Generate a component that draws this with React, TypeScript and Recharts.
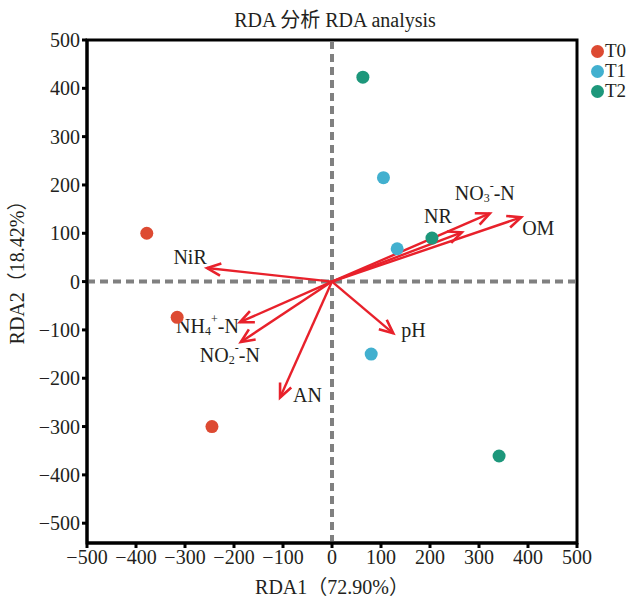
import React from "react";
import {
  ScatterChart,
  Scatter,
  XAxis,
  YAxis,
  ReferenceLine,
  ReferenceArea,
  Legend,
} from "recharts";

const FONT = "'Liberation Serif', 'Times New Roman', 'Noto Sans CJK SC', serif";

// sample scores
const t0Points = [
  { x: -378, y: 100 },
  { x: -316, y: -74 },
  { x: -245, y: -300 },
];
const t1Points = [
  { x: 105, y: 215 },
  { x: 133, y: 68 },
  { x: 80, y: -150 },
];
const t2Points = [
  { x: 63, y: 423 },
  { x: 204, y: 90 },
  { x: 341, y: -361 },
];

// environmental factor arrows
const envNames = ["NiR", "NH4", "NO2", "AN", "pH", "NR", "NO3", "OM"];
const envX = [-255, -188, -186, -106, 125, 265, 322, 386];
const envY = [28, -84, -125, -240, -107, 102, 141, 133];

const xTicks = [-500, -400, -300, -200, -100, 0, 100, 200, 300, 400, 500];
const yTicks = [500, 400, 300, 200, 100, 0, -100, -200, -300, -400, -500];

const seriesNames = ["T0", "T1", "T2"];
const seriesColors = ["#dd4a32", "#42b0cf", "#1d977b"];

// label text parts + where to put them relative to the arrow tip
type Part = { t: string; sub?: boolean; sup?: boolean };
const labelParts: Record<string, Part[]> = {
  NiR: [{ t: "NiR" }],
  NH4: [{ t: "NH" }, { t: "4", sub: true }, { t: "+", sup: true }, { t: "-N" }],
  NO2: [{ t: "NO" }, { t: "2", sub: true }, { t: "-", sup: true }, { t: "-N" }],
  AN: [{ t: "AN" }],
  pH: [{ t: "pH" }],
  NR: [{ t: "NR" }],
  NO3: [{ t: "NO" }, { t: "3", sub: true }, { t: "-", sup: true }, { t: "-N" }],
  OM: [{ t: "OM" }],
};
const labelPos: Record<string, { dx: number; dy: number; anchor: string }> = {
  NiR: { dx: -17, dy: -11, anchor: "middle" },
  NH4: { dx: -1, dy: 4, anchor: "end" },
  NO2: { dx: -11, dy: 13, anchor: "middle" },
  AN: { dx: 13, dy: -3, anchor: "start" },
  pH: { dx: 8, dy: -3, anchor: "start" },
  NR: { dx: -24, dy: -16, anchor: "middle" },
  NO3: { dx: -5, dy: -20, anchor: "middle" },
  OM: { dx: 1, dy: 11, anchor: "start" },
};

const ARROW = "#e8212b";

function LabelText({ x, y, name }: any) {
  const pos = labelPos[name];
  const parts = labelParts[name];
  let shift = 0;
  return (
    <text
      x={x + pos.dx}
      y={y + pos.dy}
      textAnchor={pos.anchor}
      dominantBaseline="central"
      fontFamily={FONT}
      fontSize={20}
      fill="#231f20"
    >
      {parts.map((p, i) => {
        let dy = 0;
        if (p.sub) {
          dy = 5 - shift;
          shift = 5;
        } else if (p.sup) {
          dy = -7 - shift;
          shift = -7;
        } else {
          dy = -shift;
          shift = 0;
        }
        return (
          <tspan key={i} dy={dy} fontSize={p.sub || p.sup ? 12 : 20}>
            {p.t}
          </tspan>
        );
      })}
    </text>
  );
}

const arrowShape = (name: string) => (props: any) => {
  const { x1, y1, x2, y2 } = props;
  const ang = Math.atan2(y2 - y1, x2 - x1);
  const L = 15;
  const a = 0.42;
  const ax = x2 - L * Math.cos(ang - a);
  const ay = y2 - L * Math.sin(ang - a);
  const bx = x2 - L * Math.cos(ang + a);
  const by = y2 - L * Math.sin(ang + a);
  return (
    <g>
      <line x1={x1} y1={y1} x2={x2} y2={y2} stroke={ARROW} strokeWidth={2.4} />
      <polyline
        points={`${ax},${ay} ${x2},${y2} ${bx},${by}`}
        fill="none"
        stroke={ARROW}
        strokeWidth={2.6}
      />
      <LabelText x={x2} y={y2} name={name} />
    </g>
  );
};

const dot = (color: string) => (props: any) => (
  <circle cx={props.cx} cy={props.cy} r={6.5} fill={color} />
);

function LegendBox({ payload }: any) {
  return (
    <div style={{ fontFamily: FONT, fontSize: 19, color: "#231f20", lineHeight: "20px" }}>
      {(payload || []).map((p: any) => (
        <div key={p.value} style={{ display: "flex", alignItems: "center" }}>
          <span
            style={{
              display: "inline-block",
              width: 13,
              height: 13,
              borderRadius: "50%",
              background: p.color,
              marginRight: 1,
            }}
          />
          {p.value}
        </div>
      ))}
    </div>
  );
}

export default function App() {
  const allSeries = [t0Points, t1Points, t2Points];
  return (
    <div style={{ position: "absolute", left: 0, top: 0, width: 635, height: 602 }}>
      <div
        style={{
          position: "absolute",
          top: 4,
          left: 0,
          width: 670,
          textAlign: "center",
          fontFamily: FONT,
          fontSize: 20,
          color: "#231f20",
        }}
      >
        RDA 分析 RDA analysis
      </div>
      <ScatterChart
        width={635}
        height={602}
        margin={{ top: 40, right: 58, bottom: 29, left: 0 }}
      >
        <XAxis
          type="number"
          dataKey="x"
          domain={[-500, 500]}
          ticks={xTicks}
          allowDataOverflow
          height={30}
          tickSize={5}
          tickMargin={2}
          axisLine={{ stroke: "#000", strokeWidth: 3 }}
          tickLine={{ stroke: "#000", strokeWidth: 3 }}
          tick={{ fill: "#231f20", fontSize: 20, fontFamily: FONT }}
          tickFormatter={(v: number) => (v < 0 ? "\u2212" + Math.abs(v) : String(v))}
          label={{
            value: "RDA1（72.90%）",
            position: "bottom",
            offset: 0,
            dy: 7,
            fill: "#231f20",
            fontSize: 20,
            fontFamily: FONT,
          }}
        />
        <YAxis
          type="number"
          dataKey="y"
          domain={[-541, 500]}
          ticks={yTicks}
          allowDataOverflow
          width={87}
          tickSize={5}
          tickMargin={2}
          axisLine={{ stroke: "#000", strokeWidth: 3 }}
          tickLine={{ stroke: "#000", strokeWidth: 3 }}
          tick={{ fill: "#231f20", fontSize: 20, fontFamily: FONT }}
          tickFormatter={(v: number) => (v < 0 ? "\u2212" + Math.abs(v) : String(v))}
          label={{
            value: "RDA2（18.42%）",
            angle: -90,
            position: "insideLeft",
            offset: 0,
            dx: 17,
            dy: -24,
            style: { textAnchor: "middle" },
            fill: "#231f20",
            fontSize: 20,
            fontFamily: FONT,
          }}
        />
        <ReferenceArea
          x1={-500}
          x2={500}
          y1={-541}
          y2={500}
          fill="none"
          fillOpacity={0}
          stroke="#000"
          strokeWidth={3}
        />
        <ReferenceLine x={0} stroke="#808080" strokeWidth={4} strokeDasharray="8 5" />
        <ReferenceLine y={0} stroke="#808080" strokeWidth={4} strokeDasharray="8 5" />
        {envNames.map((n, i) => (
          <ReferenceLine
            key={n}
            segment={[
              { x: 0, y: 0 },
              { x: envX[i], y: envY[i] },
            ]}
            shape={arrowShape(n)}
          />
        ))}
        {allSeries.map((d, i) => (
          <Scatter
            key={seriesNames[i]}
            name={seriesNames[i]}
            data={d}
            fill={seriesColors[i]}
            shape={dot(seriesColors[i])}
            isAnimationActive={false}
          />
        ))}
        <Legend
          layout="vertical"
          verticalAlign="middle"
          align="center"
          content={<LegendBox />}
          wrapperStyle={{ top: 41, left: 591, width: 44 }}
        />
      </ScatterChart>
    </div>
  );
}
